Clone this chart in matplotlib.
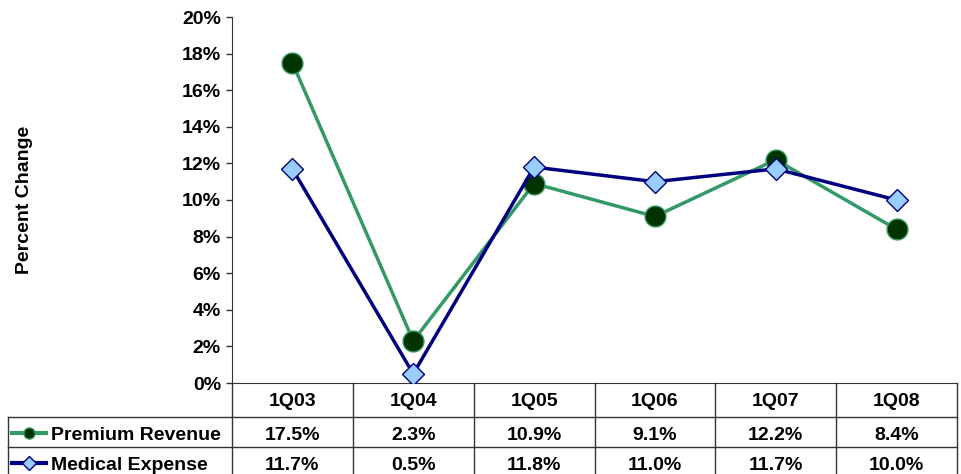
import numpy as np
import matplotlib.pyplot as plt
from matplotlib.transforms import blended_transform_factory

# Data
quarters = ["1Q03", "1Q04", "1Q05", "1Q06", "1Q07", "1Q08"]
premium_revenue = [17.5, 2.3, 10.9, 9.1, 12.2, 8.4]
medical_expense = [11.7, 0.5, 11.8, 11.0, 11.7, 10.0]
yticks = [0, 2, 4, 6, 8, 10, 12, 14, 16, 18, 20]

plt.rcParams['font.family'] = ['Liberation Sans', 'DejaVu Sans']
plt.rcParams['font.weight'] = 'bold'

W, H = 961, 474
fig = plt.figure(figsize=(W / 100, H / 100), dpi=100)

# axes box in pixels
left_px, right_px, top_px, bot_px = 232, 957, 17, 383
ax = fig.add_axes([left_px / W, 1 - bot_px / H,
                   (right_px - left_px) / W, (bot_px - top_px) / H])

x = np.arange(len(quarters))
green_line = "#339966"
navy = "#000080"
fs = 14

ax.plot(x, premium_revenue, color=green_line, linewidth=2.5, marker='o',
        markersize=15, markerfacecolor="#003300", markeredgecolor=green_line,
        markeredgewidth=1, zorder=3)
ax.plot(x, medical_expense, color=navy, linewidth=2.5, marker='D',
        markersize=11, markerfacecolor="#99CCFF", markeredgecolor=navy,
        markeredgewidth=1, zorder=4)

ax.set_xlim(-0.5, len(quarters) - 0.5)
ax.set_ylim(0, 20)
ax.set_yticks(yticks)
ax.set_yticklabels([f"{t}%" for t in yticks], fontsize=fs, fontweight='bold')
ax.set_xticks([])
ax.tick_params(axis='y', direction='out', length=4, width=1, pad=4, color='#333333')
for s in ['top', 'right']:
    ax.spines[s].set_visible(False)
ax.spines['left'].set_color('#333333')
ax.spines['bottom'].set_color('#333333')
ax.set_ylabel("Percent Change", fontsize=fs, fontweight='bold')
ax.yaxis.set_label_coords((33 - left_px) / (right_px - left_px), 0.5)

# data table under the axes
span = bot_px - top_px
colw = (right_px - left_px) / len(quarters)


def ay(py):
    return (bot_px - py) / span


def dx(px):
    return (px - left_px) / colw - 0.5


tr = blended_transform_factory(ax.transData, ax.transAxes)
lc = '#333333'
y_hdr_bot = ay(417)
y_row2 = ay(447)
y_bot = ay(478)
x_tbl_left = dx(8)

for i in range(len(quarters) + 1):
    ax.plot([i - 0.5, i - 0.5], [0, y_bot], color=lc, lw=1, transform=tr, clip_on=False)
ax.plot([x_tbl_left, x_tbl_left], [y_hdr_bot, y_bot], color=lc, lw=1, transform=tr, clip_on=False)
for yy in [y_hdr_bot, y_row2, y_bot]:
    ax.plot([x_tbl_left, len(quarters) - 0.5], [yy, yy], color=lc, lw=1, transform=tr, clip_on=False)

for i, q in enumerate(quarters):
    ax.text(i, ay(402), q, transform=tr, ha='center', va='center', fontsize=fs, fontweight='bold')
    ax.text(i, ay(436), f"{premium_revenue[i]:.1f}%", transform=tr, ha='center', va='center',
            fontsize=fs, fontweight='bold')
    ax.text(i, ay(466), f"{medical_expense[i]:.1f}%", transform=tr, ha='center', va='center',
            fontsize=fs, fontweight='bold')

# legend keys in the row labels
ax.plot([dx(12), dx(46)], [ay(433), ay(433)], color=green_line, lw=3, transform=tr, clip_on=False)
ax.plot([dx(29)], [ay(433)], marker='o', markersize=8, markerfacecolor="#003300",
        markeredgecolor=green_line, transform=tr, clip_on=False)
ax.plot([dx(12), dx(46)], [ay(463), ay(463)], color=navy, lw=3, transform=tr, clip_on=False)
ax.plot([dx(29)], [ay(463)], marker='D', markersize=7, markerfacecolor="#99CCFF",
        markeredgecolor=navy, transform=tr, clip_on=False)
ax.text(dx(51), ay(436), "Premium Revenue", transform=tr, ha='left', va='center',
        fontsize=fs, fontweight='bold')
ax.text(dx(51), ay(466), "Medical Expense", transform=tr, ha='left', va='center',
        fontsize=fs, fontweight='bold')

fig.savefig("out.png", dpi=100)
